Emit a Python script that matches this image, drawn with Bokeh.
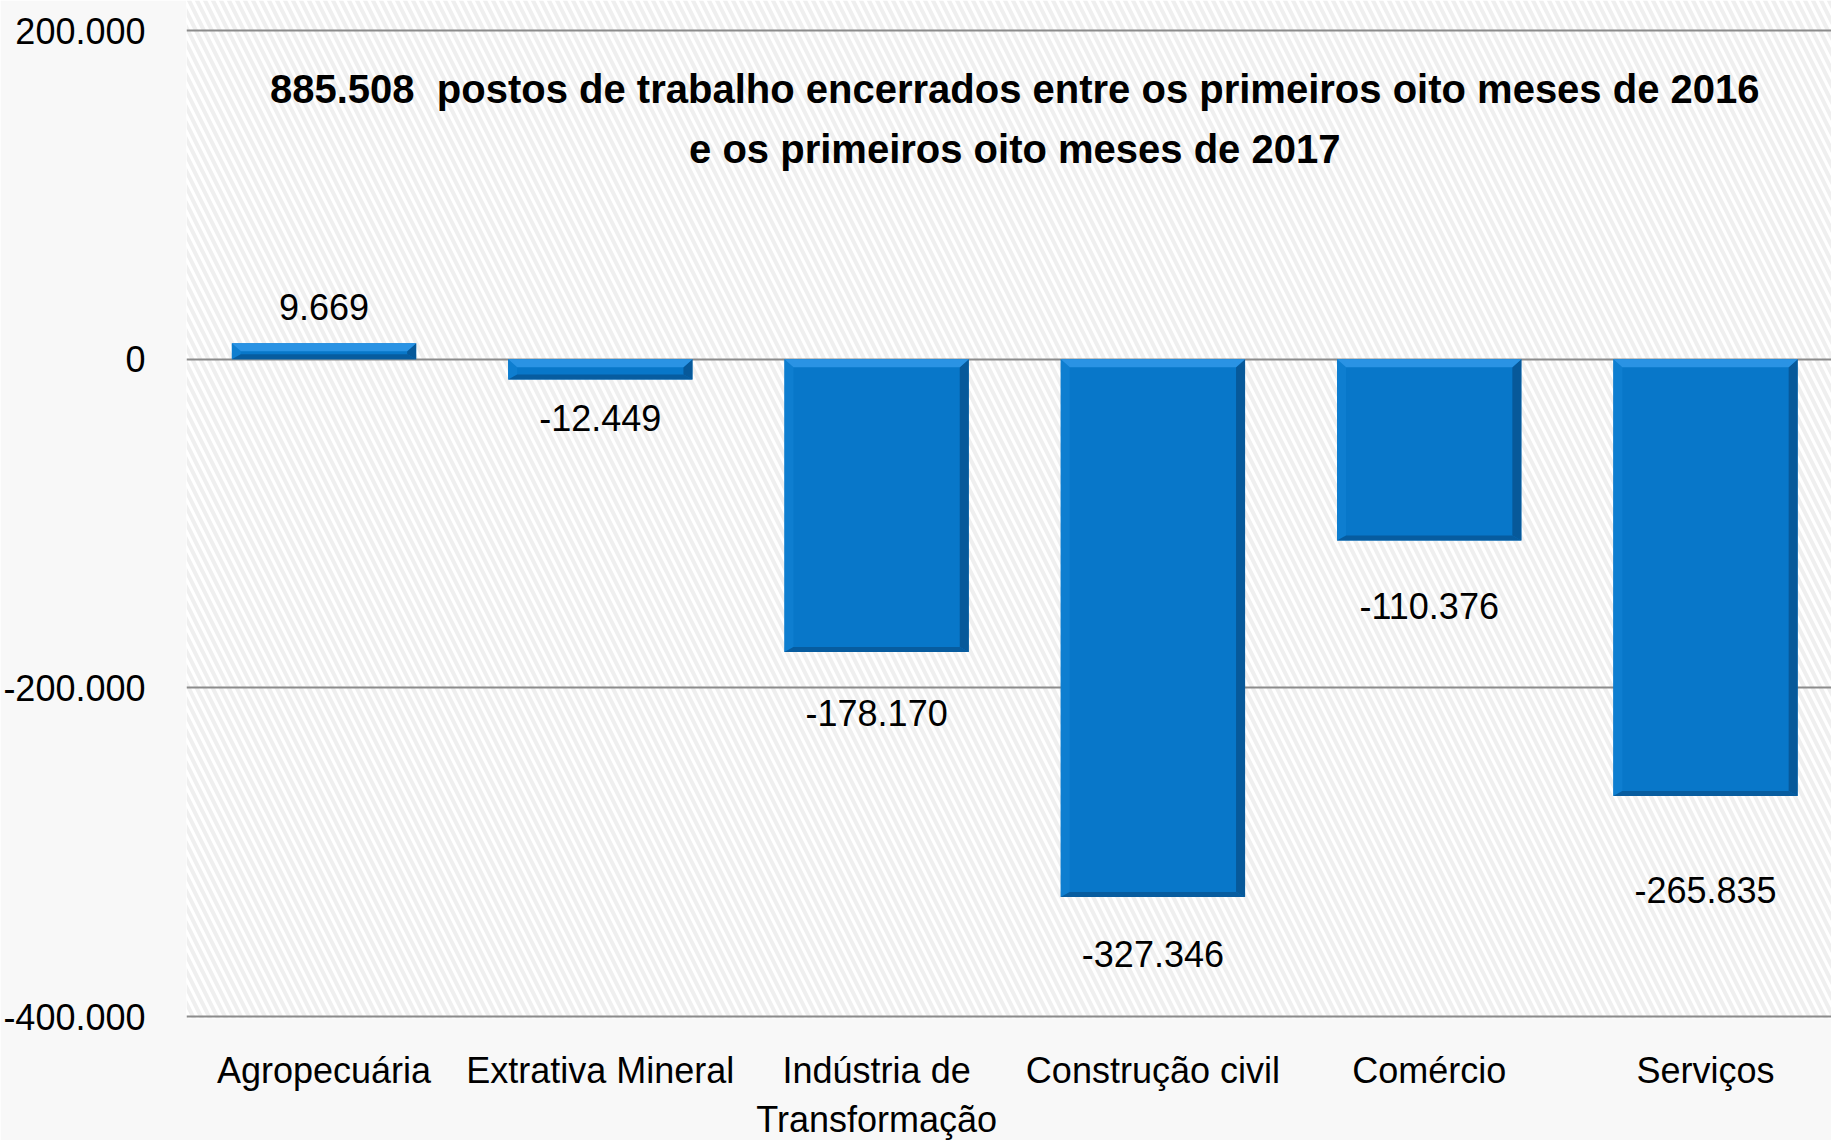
from bokeh.plotting import figure
from bokeh.models import (ColumnDataSource, FixedTicker, BoxAnnotation, Label)
from bokeh.core.properties import value
from bokeh.embed import file_html
from bokeh.resources import INLINE

# ---- data ----
categories = ["Agropecuária", "Extrativa Mineral", "Indústria de\nTransformação",
              "Construção civil", "Comércio", "Serviços"]
values = [9669, -12449, -178170, -327346, -110376, -265835]
value_labels = ["9.669", "-12.449", "-178.170", "-327.346", "-110.376", "-265.835"]
y_ticks = [200000, 0, -200000, -400000]
y_tick_labels = ["200.000", "0", "-200.000", "-400.000"]
title_lines = ["885.508\u00a0 postos de trabalho encerrados entre os primeiros oito meses de 2016",
               "e os primeiros oito meses de 2017"]

# ---- style / layout ----
FONT = "'Liberation Sans', Arial, sans-serif"
FS = "36px"
label_offsets = [-36, 38, 61, 57, 65, 94]   # px, label placement relative to bar end
BAR_W = 0.667
MAIN = "#0877C9"
TOP = "#2A93E4"
SIDE = "#07599A"
BOTTOM = "#075C9F"
LEFT = "#0E7ED0"

Y0, Y1 = -401217, 218256
X0, X1 = -0.4977, 5.456
FW, FH = 1645, 1018

p = figure(frame_width=FW, frame_height=FH, x_range=(X0, X1), y_range=(Y0, Y1),
           output_backend="svg", toolbar_location=None,
           min_border_left=186, min_border_right=0, min_border_top=0,
           min_border_bottom=120)
p.background_fill_color = "white"
p.border_fill_color = "#F8F8F8"
p.outline_line_color = None

# hatched background (frame)
bg = BoxAnnotation(fill_color="white", fill_alpha=1.0, line_color=None,
                   hatch_pattern="left_diagonal_line", hatch_color="#EFEFEF",
                   hatch_scale=16, hatch_weight=4, level="image")
p.add_layout(bg)

xs = list(range(len(categories)))
src = ColumnDataSource(dict(x=xs, top=values, lab=value_labels, off=label_offsets))

# bars
p.vbar(x="x", top="top", bottom=0, width=BAR_W, source=src,
       fill_color=MAIN, line_color=None)

# bevel facets derived from the data
px_per_y = FH / (Y1 - Y0)
px_per_x = FW / (X1 - X0)
dx = 9 / px_per_x
top_px, bot_px = 8, 5
tops_x, tops_y, rights_x, rights_y, bots_x, bots_y, lefts_x, lefts_y = ([] for _ in range(8))
for x, v in zip(xs, values):
    hi, lo = max(0, v), min(0, v)
    h_px = (hi - lo) * px_per_y
    s = min(1.0, h_px / (top_px + bot_px + 1))
    dyt = top_px * s / px_per_y
    dyb = bot_px * s / px_per_y
    l, r = x - BAR_W / 2, x + BAR_W / 2
    tops_x.append([l, r, r - dx, l + dx]); tops_y.append([hi, hi, hi - dyt, hi - dyt])
    rights_x.append([r, r, r - dx, r - dx]); rights_y.append([hi, lo, lo + dyb, hi - dyt])
    bots_x.append([l, r, r - dx, l + dx]); bots_y.append([lo, lo, lo + dyb, lo + dyb])
    lefts_x.append([l, l, l + dx, l + dx]); lefts_y.append([hi, lo, lo + dyb, hi - dyt])
p.patches(lefts_x, lefts_y, fill_color=LEFT, line_color=None)
p.patches(rights_x, rights_y, fill_color=SIDE, line_color=None)
p.patches(bots_x, bots_y, fill_color=BOTTOM, line_color=None)
p.patches(tops_x, tops_y, fill_color=TOP, line_color=None)

# value labels
p.text(x="x", y="top", text="lab", y_offset="off", source=src,
       text_align="center", text_baseline="middle",
       text_font=value(FONT), text_font_size=FS, text_color="black")

# title
for i, line in enumerate(title_lines):
    p.add_layout(Label(x=2.5, y=Y1 - (88 + 60 * i) / px_per_y, text=line,
                       text_align="center", text_baseline="middle",
                       text_font=FONT, text_font_size="40px",
                       text_font_style="bold", text_color="black"))

# axes
p.yaxis.ticker = FixedTicker(ticks=y_ticks)
p.yaxis.major_label_overrides = {t: s for t, s in zip(y_ticks, y_tick_labels)}
p.yaxis.axis_line_color = None
p.yaxis.major_tick_line_color = None
p.yaxis.minor_tick_line_color = None
p.yaxis.major_label_standoff = 35
p.yaxis.major_label_text_font = FONT
p.yaxis.major_label_text_font_size = FS
p.yaxis.major_label_text_color = "black"

p.xaxis.ticker = FixedTicker(ticks=xs)
p.xaxis.major_label_overrides = {i: c for i, c in enumerate(categories)}
p.xaxis.axis_line_color = None
p.xaxis.major_tick_line_color = None
p.xaxis.minor_tick_line_color = None
p.xaxis.major_label_standoff = 25
p.xaxis.major_label_text_font = FONT
p.xaxis.major_label_text_font_size = FS
p.xaxis.major_label_text_color = "black"

p.xgrid.grid_line_color = None
p.ygrid.ticker = FixedTicker(ticks=y_ticks)
p.ygrid.grid_line_color = "#8C8C8C"
p.ygrid.grid_line_width = 2

open("out.html", "w").write(file_html(p, INLINE))
